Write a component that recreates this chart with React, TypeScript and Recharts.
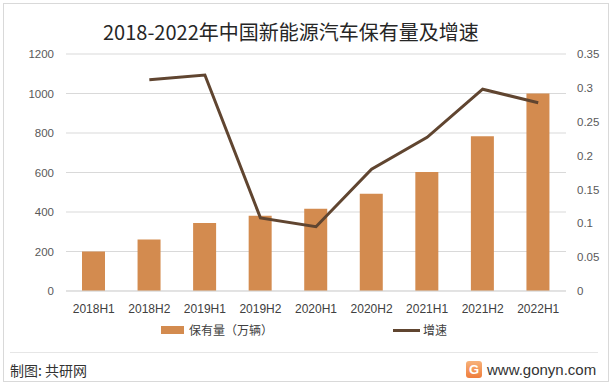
import React from "react";
import {
  ComposedChart,
  Bar,
  Line,
  XAxis,
  YAxis,
  CartesianGrid,
} from "recharts";

const periods = [
  "2018H1",
  "2018H2",
  "2019H1",
  "2019H2",
  "2020H1",
  "2020H2",
  "2021H1",
  "2021H2",
  "2022H1",
];
// 保有量（万辆）
const stock = [200, 261, 344, 381, 417, 492, 603, 784, 1000];
// 增速
const growth = [null, 0.312, 0.319, 0.108, 0.095, 0.18, 0.227, 0.298, 0.278];

const leftTicks = [0, 200, 400, 600, 800, 1000, 1200];
const rightTicks = [0, 0.05, 0.1, 0.15, 0.2, 0.25, 0.3, 0.35];

const BAR = "#D38B4F";
const LINE = "#604530";
const GRID = "#d9d9d9";
const FONT = "'Liberation Sans', 'Noto Sans CJK SC', sans-serif";
const CJK = "'Noto Sans CJK SC', sans-serif";

export default function App() {
  const data = periods.map((p, i) => ({
    period: p,
    stock: stock[i],
    growth: growth[i],
  }));

  return (
    <div
      style={{
        position: "absolute",
        left: 0,
        top: 0,
        width: 612,
        height: 385,
        background: "#fff",
        fontFamily: FONT,
      }}
    >
      <div
        style={{
          position: "absolute",
          left: 3,
          top: 3,
          width: 604,
          height: 377,
          border: "1px solid #d9d9d9",
        }}
      />
      <div
        style={{
          position: "absolute",
          left: 103,
          top: 19,
          fontFamily: CJK,
          fontSize: 20,
          lineHeight: "26px",
          color: "#262626",
          whiteSpace: "nowrap",
        }}
      >
        2018-2022年中国新能源汽车保有量及增速
      </div>

      <div style={{ position: "absolute", left: 0, top: 0 }}>
        <ComposedChart
          width={612}
          height={385}
          data={data}
          margin={{ top: 54, right: 0, left: 0, bottom: 74 }}
        >
          <CartesianGrid yAxisId="left" vertical={false} stroke={GRID} />
          <XAxis
            dataKey="period"
            axisLine={{ stroke: GRID }}
            tickLine={false}
            tickSize={6}
            tickMargin={7}
            height={20}
            interval={0}
            tick={{ fontSize: 12, fill: "#404040", fontFamily: FONT }}
          />
          <YAxis
            yAxisId="left"
            orientation="left"
            width={66}
            domain={[0, 1200]}
            ticks={leftTicks}
            axisLine={false}
            tickLine={false}
            tickSize={6}
            tickMargin={6}
            tick={{ fontSize: 11.5, fill: "#595959", fontFamily: FONT }}
          />
          <YAxis
            yAxisId="right"
            orientation="right"
            width={46}
            domain={[0, 0.35]}
            ticks={rightTicks}
            axisLine={false}
            tickLine={false}
            tickSize={6}
            tickMargin={5}
            tick={{ fontSize: 11.5, fill: "#595959", fontFamily: FONT }}
          />
          <Bar
            yAxisId="left"
            dataKey="stock"
            fill={BAR}
            barSize={23}
            isAnimationActive={false}
          />
          <Line
            yAxisId="right"
            dataKey="growth"
            stroke={LINE}
            strokeWidth={3}
            dot={false}
            activeDot={false}
            isAnimationActive={false}
          />
        </ComposedChart>
      </div>

      {/* legend */}
      <div
        style={{
          position: "absolute",
          left: 161,
          top: 326,
          width: 23,
          height: 8,
          background: BAR,
        }}
      />
      <div
        style={{
          position: "absolute",
          left: 189,
          top: 321,
          fontFamily: CJK,
          fontSize: 12,
          lineHeight: "18px",
          color: "#404040",
          whiteSpace: "nowrap",
        }}
      >
        保有量（万辆）
      </div>
      <div
        style={{
          position: "absolute",
          left: 393,
          top: 329,
          width: 27,
          height: 3,
          background: LINE,
        }}
      />
      <div
        style={{
          position: "absolute",
          left: 423,
          top: 321,
          fontFamily: CJK,
          fontSize: 12,
          lineHeight: "18px",
          color: "#404040",
          whiteSpace: "nowrap",
        }}
      >
        增速
      </div>

      {/* footer */}
      <div
        style={{
          position: "absolute",
          left: 10,
          top: 352,
          width: 588,
          height: 1,
          background: "#e6e6e6",
        }}
      />
      <div
        style={{
          position: "absolute",
          left: 10,
          top: 360,
          fontFamily: CJK,
          fontSize: 14,
          lineHeight: "20px",
          color: "#333",
          whiteSpace: "nowrap",
        }}
      >
        制图: 共研网
      </div>
      <div
        style={{
          position: "absolute",
          left: 466,
          top: 361,
          width: 16,
          height: 17,
          borderRadius: 3,
          background: "linear-gradient(180deg, #f7b27a, #ef7d3c)",
          color: "#fff",
          fontWeight: 700,
          fontSize: 13,
          lineHeight: "17px",
          textAlign: "center",
          fontFamily: FONT,
        }}
      >
        G
      </div>
      <div
        style={{
          position: "absolute",
          left: 487,
          top: 360,
          fontSize: 15,
          lineHeight: "20px",
          color: "#333",
          whiteSpace: "nowrap",
        }}
      >
        www.gonyn.com
      </div>
    </div>
  );
}
